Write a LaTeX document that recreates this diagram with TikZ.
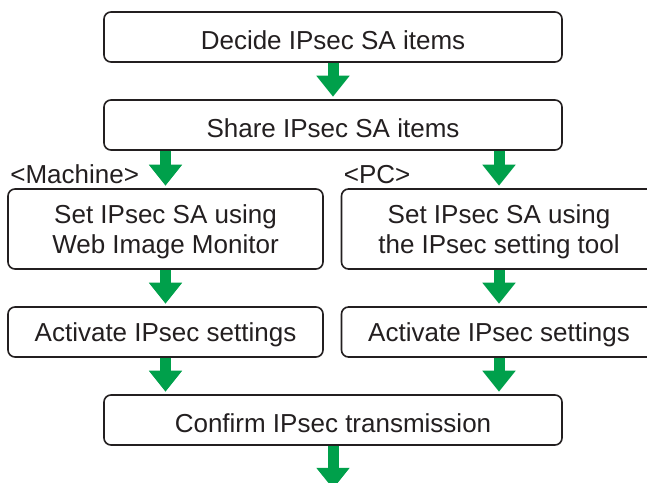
\documentclass[tikz,border=0pt]{standalone}
\usepackage{fontspec}
\setmainfont{Liberation Sans}
\usetikzlibrary{arrows.meta,positioning}
\definecolor{ipsInk}{RGB}{35,31,32}
\definecolor{ipsGreen}{RGB}{0,160,75}

\begin{document}
\begin{tikzpicture}[
      stepbox/.style={rectangle, rounded corners=7pt, draw=ipsInk, line width=1.6pt,
        fill=white, text=ipsInk, align=center, inner sep=0pt,
        font=\fontsize{26}{30}\selectfont},
      widebox/.style={stepbox, minimum width=458pt, minimum height=50pt, text height=24.6pt},
      halfbox/.style={stepbox, minimum width=315pt, minimum height=50pt, text height=24.6pt},
      tallbox/.style={stepbox, minimum width=315pt, minimum height=80pt, text height=54.6pt},
      sidelbl/.style={text=ipsInk, inner sep=2pt, font=\fontsize{26}{30}\selectfont},
      garr/.style={-{Triangle[width=32pt, length=21pt]}, draw=ipsGreen,
        line width=11pt, shorten >=2.5pt},
    ]
    \useasboundingbox (0,0) rectangle (647pt,-482pt);

    % ---- common steps ----
    \node[widebox] (decide) at (333pt,-37pt) {Decide IPsec SA items};
    \node[widebox, below=36.4pt of decide] (share) {Share IPsec SA items};

    % ---- two columns: machine / PC ----
    \node[tallbox, below=37.4pt of share, xshift=-167.5pt] (setweb)
      {Set IPsec SA using\\ Web Image Monitor};
    \node[tallbox, below=37.4pt of share, xshift=166pt] (setpc)
      {Set IPsec SA using\\ the IPsec setting tool};
    \node[sidelbl, above right=2pt and 1pt of setweb.north west] (machlbl) {<Machine>};
    \node[sidelbl, above right=2pt and 1pt of setpc.north west] (pclbl) {<PC>};

    \node[halfbox, below=36.4pt of setweb] (actweb) {Activate IPsec settings};
    \node[halfbox, below=36.4pt of setpc] (actpc) {Activate IPsec settings};

    % ---- last step ----
    \node[widebox, below=36.4pt of actweb, xshift=167.5pt] (confirm)
      {Confirm IPsec transmission};
    \coordinate[below=43pt of confirm.south] (next);

    \draw[garr] (decide) -- (share);
    \draw[garr] (share.south -| setweb.north) -- (setweb);
    \draw[garr] (share.south -| setpc.north) -- (setpc);
    \draw[garr] (setweb) -- (actweb);
    \draw[garr] (setpc) -- (actpc);
    \draw[garr] (actweb.south) -- (actweb.south |- confirm.north);
    \draw[garr] (actpc.south) -- (actpc.south |- confirm.north);
    \draw[garr, shorten >=0pt] (confirm.south) -- (next);
  \end{tikzpicture}
\end{document}
